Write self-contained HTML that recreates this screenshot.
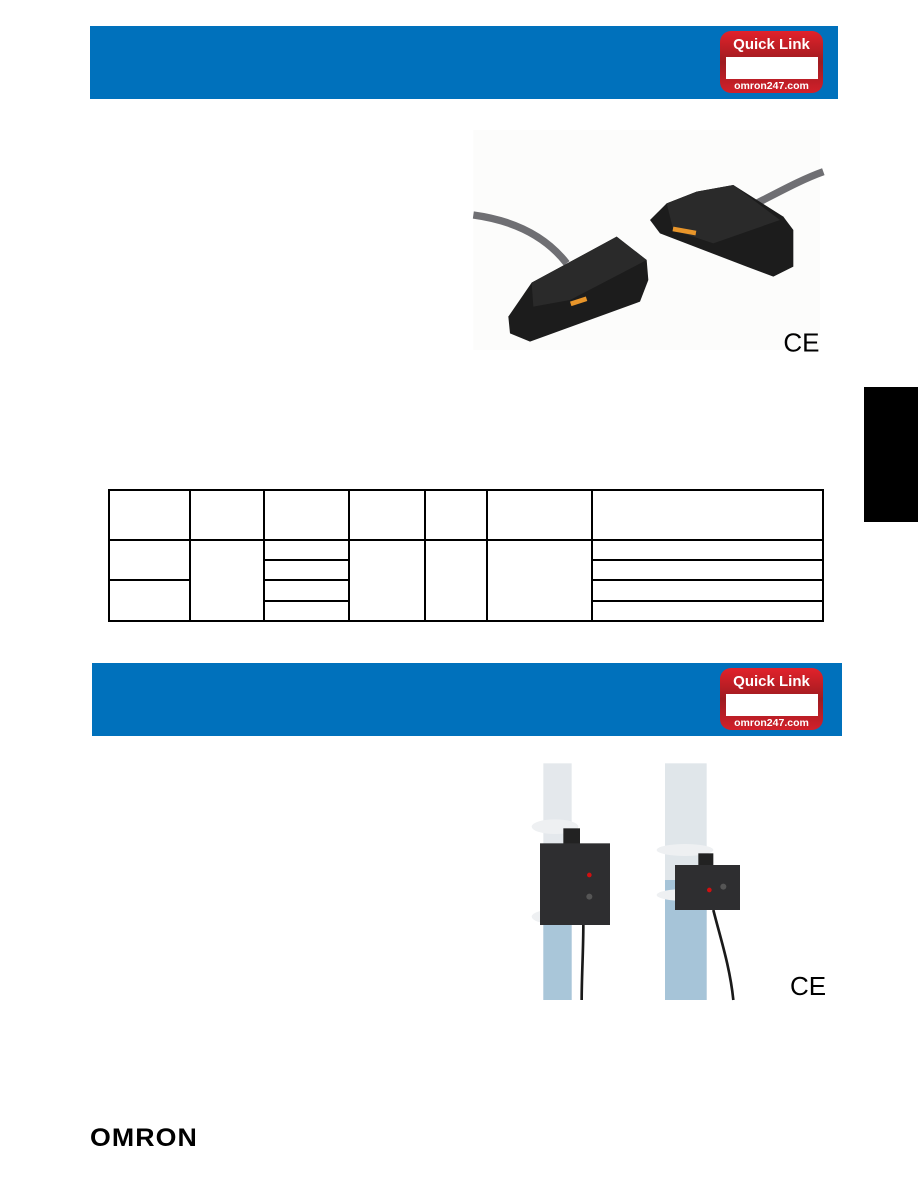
<!DOCTYPE html>
<html><head><meta charset="utf-8"><style>
body{margin:0;background:#fff;}
#p{position:relative;width:918px;height:1188px;overflow:hidden;background:#fff;font-family:"Liberation Sans",sans-serif;}
.a{position:absolute;}
.ban{background:#0071bc;}
.ql{position:absolute;width:103px;height:62px;border-radius:11px;background:linear-gradient(#e2222b,#9e1b20 50%,#d2202a);}
.ql .t{position:absolute;left:0;width:103px;top:5px;text-align:center;color:#fff;font-weight:bold;font-size:15px;}
.ql .w{position:absolute;left:6px;top:26px;width:92px;height:22px;background:#fff;}
.ql .u{position:absolute;left:0;width:103px;top:49px;text-align:center;color:#fff;font-weight:bold;font-size:10.5px;}
.hl{position:absolute;background:#000;height:2px;}
.vl{position:absolute;background:#000;width:2px;}
</style></head><body><div id="p">
<div class="a ban" style="left:90px;top:26px;width:748px;height:73px"></div>
<div class="ql" style="left:720px;top:31px"><div class="t">Quick Link</div><div class="w"></div><div class="u">omron247.com</div></div>

<svg class="a" style="left:460px;top:120px" width="380" height="240" viewBox="0 0 1140 720">
<rect x="40" y="30" width="1040" height="660" fill="#fcfcfb"/>
<path d="M40 285 C150 300 250 340 320 430" stroke="#6f6f73" stroke-width="22" fill="none"/>
<path d="M870 260 C950 220 1020 180 1090 155" stroke="#6f6f73" stroke-width="22" fill="none"/>
<polygon points="145,590 215,488 470,350 560,420 565,480 540,545 210,665 150,640" fill="#1c1c1c"/>
<polygon points="215,488 470,350 560,420 330,540 220,560" fill="#2a2a2a"/>
<rect x="330" y="545" width="50" height="14" fill="#e8952a" transform="rotate(-18 330 545)"/>
<polygon points="570,300 620,250 710,215 820,195 970,290 1000,330 1000,440 940,470 860,440 600,340" fill="#1c1c1c"/>
<polygon points="620,250 710,215 820,195 960,300 760,370 640,330" fill="#2a2a2a"/>
<rect x="640" y="320" width="70" height="14" fill="#e8952a" transform="rotate(10 640 320)"/>
<text x="970" y="695" font-family="Liberation Sans,sans-serif" font-size="78" fill="#000">CE</text>
</svg>

<div class="a" style="left:864px;top:387px;width:54px;height:135px;background:#000"></div>

<div class="hl" style="left:108px;top:489px;width:716px"></div>
<div class="hl" style="left:108px;top:539px;width:716px"></div>
<div class="hl" style="left:264px;top:559px;width:85px"></div>
<div class="hl" style="left:592px;top:559px;width:232px"></div>
<div class="hl" style="left:108px;top:579px;width:82px"></div>
<div class="hl" style="left:264px;top:579px;width:85px"></div>
<div class="hl" style="left:592px;top:579px;width:232px"></div>
<div class="hl" style="left:264px;top:600px;width:85px"></div>
<div class="hl" style="left:592px;top:600px;width:232px"></div>
<div class="hl" style="left:108px;top:620px;width:716px"></div>
<div class="vl" style="left:108px;top:489px;height:133px"></div>
<div class="vl" style="left:189px;top:489px;height:133px"></div>
<div class="vl" style="left:263px;top:489px;height:133px"></div>
<div class="vl" style="left:348px;top:489px;height:133px"></div>
<div class="vl" style="left:424px;top:489px;height:133px"></div>
<div class="vl" style="left:486px;top:489px;height:133px"></div>
<div class="vl" style="left:591px;top:489px;height:133px"></div>
<div class="vl" style="left:822px;top:489px;height:133px"></div>

<div class="a ban" style="left:92px;top:663px;width:750px;height:73px"></div>
<div class="ql" style="left:720px;top:668px"><div class="t">Quick Link</div><div class="w"></div><div class="u">omron247.com</div></div>

<svg class="a" style="left:500px;top:750px" width="340" height="260" viewBox="0 0 1020 780">
<rect x="130" y="40" width="85" height="710" fill="#e4e8ec"/>
<rect x="130" y="480" width="85" height="270" fill="#a9c6d9"/>
<rect x="495" y="40" width="125" height="710" fill="#e0e6ea"/>
<rect x="495" y="390" width="125" height="360" fill="#a6c4d8"/>
<ellipse cx="165" cy="230" rx="70" ry="22" fill="#eef0f2"/>
<ellipse cx="165" cy="500" rx="70" ry="22" fill="#eef0f2"/>
<ellipse cx="555" cy="300" rx="85" ry="18" fill="#eef0f2"/>
<ellipse cx="555" cy="435" rx="85" ry="18" fill="#eef0f2"/>
<path d="M250 525 C250 600 245 680 245 750" stroke="#1a1a1a" stroke-width="8" fill="none"/>
<path d="M640 480 C660 560 690 650 700 750" stroke="#1a1a1a" stroke-width="8" fill="none"/>
<rect x="190" y="235" width="50" height="55" fill="#222"/>
<rect x="120" y="280" width="210" height="245" fill="#2e2e30"/>
<circle cx="268" cy="375" r="7" fill="#d01010"/>
<circle cx="268" cy="440" r="9" fill="#555"/>
<rect x="595" y="310" width="45" height="45" fill="#222"/>
<rect x="525" y="345" width="195" height="135" fill="#2e2e30"/>
<circle cx="628" cy="420" r="7" fill="#d01010"/>
<circle cx="670" cy="410" r="9" fill="#555"/>
<text x="870" y="735" font-family="Liberation Sans,sans-serif" font-size="78" fill="#000">CE</text>
</svg>

<div class="a" style="left:90px;top:1126px;font-weight:bold;font-size:25px;letter-spacing:1px;color:#000;transform:scaleX(1.07);transform-origin:left top;line-height:25px">OMRON</div>
</div></body></html>
